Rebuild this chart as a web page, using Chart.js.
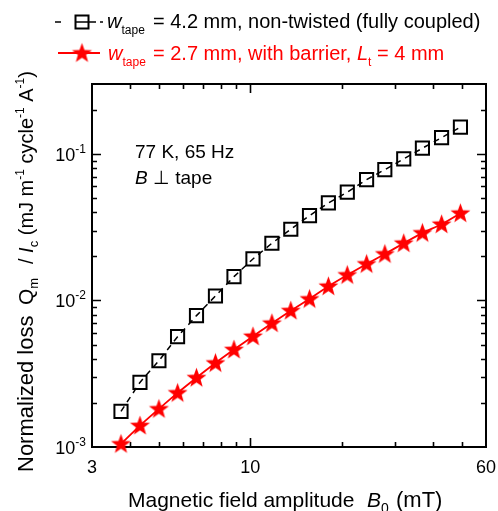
<!DOCTYPE html>
<html><head><meta charset="utf-8">
<script src="https://cdn.jsdelivr.net/npm/chart.js@4/dist/chart.umd.min.js"></script>
<style>html,body{margin:0;padding:0;background:#fff}#wrap{width:498px;height:511px;position:relative}</style>
</head><body><div id="wrap"><canvas id="c" width="498" height="511"></canvas></div>
<script>
// ---- data ----
const fieldAmplitude = [3.74, 4.32, 4.99, 5.75, 6.64, 7.67, 8.83, 10.2, 11.78, 13.6, 15.68, 18.1, 20.9, 24.2, 27.8, 32.1, 37.0, 42.8, 49.4];
const lossNonTwisted = [1.75e-3, 2.76e-3, 3.88e-3, 5.66e-3, 7.88e-3, 1.073e-2, 1.454e-2, 1.92e-2, 2.457e-2, 3.06e-2, 3.79e-2, 4.63e-2, 5.48e-2, 6.68e-2, 7.81e-2, 9.24e-2, 0.1094, 0.1292, 0.1522];
const lossWithBarrier = [1.05e-3, 1.40e-3, 1.82e-3, 2.34e-3, 2.97e-3, 3.74e-3, 4.62e-3, 5.69e-3, 6.99e-3, 8.52e-3, 1.024e-2, 1.25e-2, 1.493e-2, 1.775e-2, 2.077e-2, 2.457e-2, 2.89e-2, 3.31e-2, 3.94e-2];
const xTickValues = [3, 10, 60];
const xTickLabels = ['3', '10', '60'];
const xMinorTicks = [4, 5, 6, 7, 8, 9, 20, 30, 40, 50];
const yTickValues = [1e-3, 1e-2, 1e-1];
const yTickExponents = ['-3', '-2', '-1'];
const yMinorTicks = [2e-3,3e-3,4e-3,5e-3,6e-3,7e-3,8e-3,9e-3,2e-2,3e-2,4e-2,5e-2,6e-2,7e-2,8e-2,9e-2,2e-1];
const seriesNames = ['w_tape = 4.2 mm, non-twisted (fully coupled)', 'w_tape = 2.7 mm, with barrier, L_t = 4 mm'];

const FF = '"Liberation Sans", Arial, sans-serif';
const RED = '#ff0000';

function makeStar(R, r, color) {
  const s = Math.ceil(2 * R + 2);
  const c = document.createElement('canvas');
  c.width = s; c.height = s;
  const g = c.getContext('2d');
  g.fillStyle = color;
  g.beginPath();
  for (let i = 0; i < 10; i++) {
    const rad = i % 2 ? r : R;
    const a = -Math.PI / 2 + i * Math.PI / 5;
    g.lineTo(s / 2 + rad * Math.cos(a), s / 2 + 0.5 + rad * Math.sin(a));
  }
  g.closePath();
  g.fill();
  return c;
}
const star = makeStar(10.5, 4.3, RED);

// draw a sequence of text runs horizontally (in current transform)
function runs(ctx, x, y, parts, color) {
  ctx.fillStyle = color;
  ctx.textAlign = 'left';
  ctx.textBaseline = 'alphabetic';
  for (const p of parts) {
    ctx.font = p.f;
    ctx.fillText(p.t, x, y + (p.dy || 0));
    x += ctx.measureText(p.t).width;
  }
  return x;
}

const framePlugin = {
  id: 'frame',
  beforeDatasetsDraw(chart) {
    const { ctx, chartArea: { left, right, top, bottom }, scales: { x, y } } = chart;
    ctx.save();
    ctx.strokeStyle = '#000';
    ctx.lineWidth = 1.6;
    ctx.beginPath();
    const tickX = (v, len) => {
      const px = Math.round(x.getPixelForValue(v)) + 0.5;
      ctx.moveTo(px, bottom); ctx.lineTo(px, bottom - len);
      ctx.moveTo(px, top); ctx.lineTo(px, top + len);
    };
    const tickY = (v, len) => {
      const py = Math.round(y.getPixelForValue(v)) + 0.5;
      ctx.moveTo(left, py); ctx.lineTo(left + len, py);
      ctx.moveTo(right, py); ctx.lineTo(right - len, py);
    };
    xMinorTicks.forEach(v => tickX(v, 5));
    xTickValues.slice(1, -1).forEach(v => tickX(v, 9));
    yMinorTicks.forEach(v => tickY(v, 5));
    yTickValues.slice(1).forEach(v => tickY(v, 9));
    ctx.stroke();
    ctx.lineWidth = 2;
    ctx.strokeRect(left, top, right - left, bottom - top);
    ctx.restore();
  },
  afterDraw(chart) {
    const { ctx, chartArea: { left, right, top, bottom }, scales: { x, y } } = chart;
    ctx.save();
    // x tick labels
    ctx.fillStyle = '#000';
    ctx.font = '18px ' + FF;
    ctx.textAlign = 'center';
    ctx.textBaseline = 'alphabetic';
    xTickValues.forEach((v, i) => ctx.fillText(xTickLabels[i], x.getPixelForValue(v), bottom + 26));
    // y tick labels: 10^exp
    yTickValues.forEach((v, i) => {
      const py = y.getPixelForValue(v);
      ctx.font = '12px ' + FF;
      const we = ctx.measureText(yTickExponents[i]).width;
      ctx.font = '18px ' + FF;
      const wb = ctx.measureText('10').width;
      const xr = left - 6;
      ctx.textAlign = 'left';
      ctx.fillText('10', xr - we - wb, py + 7);
      ctx.font = '12px ' + FF;
      ctx.fillText(yTickExponents[i], xr - we, py - 1);
    });
    // x axis title
    const n21 = '21px ' + FF, i21 = 'italic 21px ' + FF, s14 = '14px ' + FF;
    runs(ctx, 128, 507, [{ t: 'Magnetic field amplitude', f: n21 }], '#000');
    runs(ctx, 367, 507, [{ t: 'B', f: i21 }, { t: '0', f: s14, dy: 6 }], '#000');
    runs(ctx, 396, 507, [{ t: '(mT)', f: '22px ' + FF }], '#000');
    // y axis title (rotated), three pieces placed along the axis
    const n20 = '20px ' + FF, i20 = 'italic 20px ' + FF, s12 = '12px ' + FF, s13 = '13px ' + FF;
    const rot = (yStart, parts) => {
      ctx.save();
      ctx.translate(33, yStart);
      ctx.rotate(-Math.PI / 2);
      runs(ctx, 0, 0, parts, '#000');
      ctx.restore();
    };
    rot(472, [{ t: 'Normalized loss', f: '22px ' + FF }]);
    rot(305, [{ t: 'Q', f: '21px ' + FF }, { t: 'm', f: '13px ' + FF, dy: 5 }]);
    rot(264, [
      { t: '/ ', f: n20 },
      { t: 'I', f: i20 }, { t: 'c', f: s13, dy: 5 },
      { t: ' (mJ m', f: n20 }, { t: '-1', f: s12, dy: -9 },
      { t: ' cycle', f: n20 }, { t: '-1', f: s12, dy: -9 },
      { t: ' A', f: n20 }, { t: '-1', f: s12, dy: -9 },
      { t: ')', f: n20 }
    ]);
    // annotation
    const n19 = '19px ' + FF, i19 = 'italic 19px ' + FF;
    runs(ctx, 135, 158, [{ t: '77 K, 65 Hz', f: n19 }], '#000');
    runs(ctx, 135, 184, [{ t: 'B', f: i19 }, { t: ' \u22A5 tape', f: n19 }], '#000');
    // legend row 1
    ctx.strokeStyle = '#000';
    ctx.lineWidth = 1.5;
    ctx.beginPath();
    ctx.moveTo(55, 22); ctx.lineTo(61, 22);
    ctx.moveTo(76, 22); ctx.lineTo(96, 22);
    ctx.moveTo(100, 22); ctx.lineTo(103, 22);
    ctx.stroke();
    ctx.lineWidth = 2;
    ctx.strokeRect(75.5, 15.5, 13, 13);
    const n20b = '20px ' + FF;
    runs(ctx, 107, 28, [{ t: 'w', f: i20 }, { t: 'tape', f: s12, dy: 6 }], '#000');
    runs(ctx, 153, 28, [{ t: '= 4.2 mm, non-twisted (fully coupled)', f: n20b }], '#000');
    // legend row 2
    ctx.strokeStyle = RED;
    ctx.lineWidth = 1.8;
    ctx.beginPath();
    ctx.moveTo(58, 53); ctx.lineTo(100, 53);
    ctx.stroke();
    ctx.drawImage(star, 82 - star.width / 2, 53 - star.height / 2);
    runs(ctx, 108, 60, [{ t: 'w', f: i20 }, { t: 'tape', f: s12, dy: 6 }], RED);
    runs(ctx, 153, 60, [{ t: '= 2.7 mm, with barrier, ', f: n20b }, { t: 'L', f: i20 }, { t: 't', f: s12, dy: 6 }, { t: ' = 4 mm', f: n20b }], RED);
    ctx.restore();
  }
};

new Chart(document.getElementById('c'), {
  type: 'line',
  data: {
    datasets: [
      {
        label: seriesNames[0],
        data: fieldAmplitude.map((v, i) => ({ x: v, y: lossNonTwisted[i] })),
        borderColor: '#000', borderWidth: 1.5, borderDash: [6, 5],
        pointStyle: 'rect', pointRadius: 9.3, pointBorderWidth: 2,
        pointBackgroundColor: 'rgba(0,0,0,0)', pointBorderColor: '#000',
        fill: false, clip: false, tension: 0
      },
      {
        label: seriesNames[1],
        data: fieldAmplitude.map((v, i) => ({ x: v, y: lossWithBarrier[i] })),
        borderColor: RED, borderWidth: 1.8,
        pointStyle: star, pointRadius: 10,
        fill: false, clip: false, tension: 0.2
      }
    ]
  },
  options: {
    responsive: false, animation: false, events: [],
    layout: { padding: { left: 92, right: 12, top: 84, bottom: 64 } },
    plugins: { legend: { display: false }, tooltip: { enabled: false } },
    scales: {
      x: { type: 'logarithmic', min: 3, max: 60, ticks: { display: false }, grid: { display: false }, border: { display: false }, afterFit(s) { s.height = 0; } },
      y: { type: 'logarithmic', min: 1e-3, max: 0.3, ticks: { display: false }, grid: { display: false }, border: { display: false }, afterFit(s) { s.width = 0; } }
    }
  },
  plugins: [framePlugin]
});
</script>
</body></html>
